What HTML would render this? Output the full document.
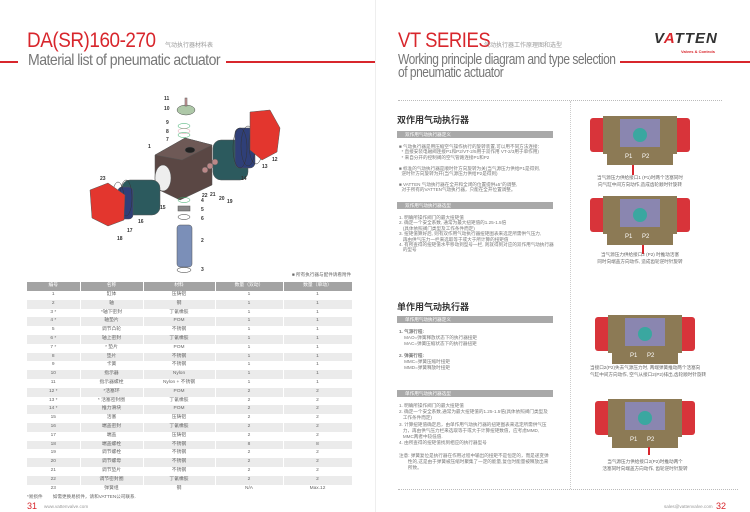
<!DOCTYPE html>
<html><head><meta charset="utf-8"><style>
*{margin:0;padding:0;box-sizing:border-box}
body{width:750px;height:512px;background:#fff;position:relative;overflow:hidden;font-family:"Liberation Sans","Noto Sans CJK SC",sans-serif;color:#555}
.a{position:absolute;white-space:nowrap}
.cn{font-family:"Liberation Sans","Noto Sans CJK SC",sans-serif}
table{position:absolute;left:27px;top:282px;width:325px;border-collapse:collapse;font-size:4.8px;color:#666;table-layout:fixed}
td,th{height:8.8px;line-height:8.8px;text-align:center;padding:0;border-right:1px solid #fff;overflow:hidden}
th{background:#a3a3a3;color:#fff;font-weight:normal;height:9px}
tr:nth-child(odd) td{background:#ebebeb}
.t{font-size:4.6px;line-height:5.4px;color:#777}
.band{position:absolute;left:397px;width:156px;height:7px;background:#a9a9a9;color:#fff;font-size:4.6px;line-height:7px;padding-left:8px}
.h{font-size:9px;font-weight:bold;color:#333}
.cap{font-size:4.6px;line-height:6.5px;color:#666;text-align:center}
</style></head><body>
<div class="a" style="left:375px;top:0;width:1px;height:512px;background:#eee"></div>
<!-- left header -->
<div class="a" style="left:27px;top:29px;font-size:21px;color:#d8262c;letter-spacing:-0.5px;transform:scaleX(0.9);transform-origin:left">DA(SR)160-270</div>
<div class="a cn" style="left:165px;top:40px;font-size:6px;color:#999">气动执行器材料表</div>
<div class="a" style="left:0;top:61px;width:18px;height:2px;background:#d8262c"></div>
<div class="a" style="left:226px;top:61px;width:149px;height:2px;background:#d8262c"></div>
<div class="a" style="left:28px;top:52px;font-size:16px;color:#777;letter-spacing:-0.6px;transform:scaleX(0.88);transform-origin:left">Material list of pneumatic actuator</div>

<!-- exploded drawing -->
<svg class="a" style="left:0;top:0" width="375" height="282">
 <g stroke="#555" stroke-width="0.5" font-size="5" font-weight="bold" fill="#333" font-family="Liberation Sans">
 <polygon points="155,155 185,138 212,145 212,185 180,200 155,188" fill="#5a4744"/>
 <polygon points="155,155 185,138 212,145 182,160" fill="#6e5956"/>
 <ellipse cx="190" cy="150" rx="5" ry="3" fill="#222"/>
 <ellipse cx="163" cy="178" rx="8" ry="13" fill="#eee"/>
 <rect x="213" y="140" width="35" height="40" rx="8" fill="#2c5a5e"/>
 <rect x="235" y="128" width="20" height="40" rx="5" fill="#2f3f78"/>
 <g stroke="#333" fill="none"><ellipse cx="240" cy="148" rx="7" ry="20"/><ellipse cx="248" cy="146" rx="7" ry="20"/><ellipse cx="256" cy="144" rx="7" ry="20"/></g>
 <polygon points="250,112 270,110 280,128 277,152 262,160 250,150" fill="#e3362e"/>
 <rect x="122" y="180" width="38" height="35" rx="8" fill="#2c5a5e"/>
 <rect x="118" y="187" width="15" height="32" rx="4" fill="#2f3f78"/>
 <g stroke="#333" fill="none"><ellipse cx="118" cy="200" rx="6" ry="18"/><ellipse cx="126" cy="198" rx="6" ry="18"/></g>
 <polygon points="90,190 108,183 125,195 124,220 108,226 92,218" fill="#e3362e"/>
 <ellipse cx="186" cy="110" rx="9" ry="5" fill="#aec8a8"/>
 <rect x="185" y="98" width="2" height="8" fill="#c99"/>
 <ellipse cx="184" cy="126" rx="6" ry="2.5" fill="none" stroke="#3a6"/>
 <ellipse cx="184" cy="131" rx="6" ry="2.5" fill="none" stroke="#d9a"/>
 <ellipse cx="184" cy="135" rx="6" ry="2.5" fill="none" stroke="#3a6"/>
 <ellipse cx="184" cy="200" rx="6" ry="2.5" fill="none" stroke="#3a6"/>
 <rect x="178" y="206" width="12" height="5" fill="#888"/>
 <ellipse cx="184" cy="217" rx="6" ry="2.5" fill="none" stroke="#333"/>
 <rect x="177" y="225" width="15" height="42" rx="3" fill="#7b8fb8"/>
 <ellipse cx="184" cy="270" rx="7" ry="2.5" fill="none" stroke="#333"/>
 <circle cx="205" cy="170" r="3" fill="#b88"/><circle cx="210" cy="166" r="3" fill="#b88"/><circle cx="215" cy="162" r="3" fill="#b88"/>
 <path d="M222,173 l10,3" stroke="#2c5a5e" stroke-width="3"/>
 </g>
 <g font-size="5" font-weight="bold" fill="#333" font-family="Liberation Sans">
 <text x="164" y="100">11</text><text x="164" y="110">10</text><text x="166" y="124">9</text><text x="166" y="133">8</text><text x="166" y="141">7</text>
 <text x="148" y="148">1</text><text x="272" y="161">12</text><text x="262" y="168">13</text><text x="241" y="180">14</text>
 <text x="202" y="197">22</text><text x="210" y="196">21</text><text x="219" y="200">20</text><text x="227" y="203">19</text>
 <text x="201" y="202">4</text><text x="201" y="211">5</text><text x="201" y="220">6</text><text x="201" y="242">2</text><text x="201" y="271">3</text>
 <text x="100" y="180">23</text><text x="160" y="209">15</text><text x="138" y="223">16</text><text x="127" y="232">17</text><text x="117" y="240">18</text>
 </g>
</svg>
<div class="a cn" style="left:292px;top:272px;font-size:4.6px;color:#666">■ 所有执行器与配件请看附件</div>

<table>
<colgroup><col style="width:53px"><col style="width:63px"><col style="width:72px"><col style="width:68px"><col style="width:69px"></colgroup>
<tr><th>编号</th><th>名称</th><th>材料</th><th>数量（双动）</th><th>数量（单动）</th></tr>
<tr><td>1</td><td>缸体</td><td>压铸铝</td><td>1</td><td>1</td></tr>
<tr><td>2</td><td>轴</td><td>钢</td><td>1</td><td>1</td></tr>
<tr><td>3 *</td><td>*轴下密封</td><td>丁氰橡胶</td><td>1</td><td>1</td></tr>
<tr><td>4 *</td><td>轴垫片</td><td>POM</td><td>1</td><td>1</td></tr>
<tr><td>5</td><td>调节凸轮</td><td>不锈钢</td><td>1</td><td>1</td></tr>
<tr><td>6 *</td><td>轴上密封</td><td>丁氰橡胶</td><td>1</td><td>1</td></tr>
<tr><td>7 *</td><td>* 垫片</td><td>POM</td><td>1</td><td>1</td></tr>
<tr><td>8</td><td>垫片</td><td>不锈钢</td><td>1</td><td>1</td></tr>
<tr><td>9</td><td>卡簧</td><td>不锈钢</td><td>1</td><td>1</td></tr>
<tr><td>10</td><td>指示器</td><td>Nylon</td><td>1</td><td>1</td></tr>
<tr><td>11</td><td>指示器螺栓</td><td>Nylon + 不锈钢</td><td>1</td><td>1</td></tr>
<tr><td>12 *</td><td>*活塞环</td><td>POM</td><td>2</td><td>2</td></tr>
<tr><td>13 *</td><td>* 活塞密封圈</td><td>丁氰橡胶</td><td>2</td><td>2</td></tr>
<tr><td>14 *</td><td>推力滑块</td><td>POM</td><td>2</td><td>2</td></tr>
<tr><td>15</td><td>活塞</td><td>压铸铝</td><td>2</td><td>2</td></tr>
<tr><td>16</td><td>端盖密封</td><td>丁氰橡胶</td><td>2</td><td>2</td></tr>
<tr><td>17</td><td>端盖</td><td>压铸铝</td><td>2</td><td>2</td></tr>
<tr><td>18</td><td>端盖螺栓</td><td>不锈钢</td><td>8</td><td>8</td></tr>
<tr><td>19</td><td>调节螺栓</td><td>不锈钢</td><td>2</td><td>2</td></tr>
<tr><td>20</td><td>调节螺母</td><td>不锈钢</td><td>2</td><td>2</td></tr>
<tr><td>21</td><td>调节垫片</td><td>不锈钢</td><td>2</td><td>2</td></tr>
<tr><td>22</td><td>调节密封圈</td><td>丁氰橡胶</td><td>2</td><td>2</td></tr>
<tr><td>23</td><td>弹簧组</td><td>钢</td><td>N/A</td><td>Max.12</td></tr>
</table>
<div class="a cn" style="left:27px;top:494px;font-size:4.6px;color:#666">*易损件&nbsp;&nbsp;&nbsp;&nbsp;&nbsp;&nbsp;&nbsp;&nbsp;如需更换易损件，请和VATTEN公司联系.</div>
<div class="a" style="left:27px;top:501px;font-size:9px;line-height:10px;color:#d8262c">31</div>
<div class="a" style="left:44px;top:504px;font-size:4.6px;color:#999">www.vattenvalve.com</div>

<!-- right header -->
<div class="a" style="left:398px;top:29px;font-size:21px;color:#d8262c;letter-spacing:-0.5px;transform:scaleX(0.88);transform-origin:left">VT SERIES</div>
<div class="a cn" style="left:484px;top:40px;font-size:6px;color:#999">气动执行器工作原理图和选型</div>
<div class="a" style="left:398px;top:54px;font-size:15px;line-height:12.5px;color:#777;letter-spacing:-0.6px;transform:scaleX(0.8);transform-origin:left">Working principle diagram and type selection<br>of pneumatic actuator</div>
<div class="a" style="left:620px;top:61px;width:130px;height:2px;background:#d8262c"></div>
<div class="a" style="left:654px;top:30px;font-size:15px;font-weight:bold;font-style:italic;color:#333;letter-spacing:1px">V<span style="color:#d8262c">A</span>TTEN</div>
<div class="a" style="left:681px;top:49px;font-size:4px;font-weight:bold;color:#d8262c">Valves &amp; Controls</div>
<div class="a" style="left:398px;top:100px;width:324px;border-top:1px dotted #bbb"></div>
<div class="a" style="left:570px;top:101px;height:388px;border-left:1px dotted #ccc"></div>
<div class="a" style="left:398px;top:489px;width:340px;border-top:1px dotted #bbb"></div>

<!-- right text col -->
<div class="a h cn" style="left:397px;top:113px">双作用气动执行器</div>
<div class="band cn" style="top:131px">双作用气动执行器定义</div>
<div class="a t cn" style="left:399px;top:144px">■ 气动执行器是用压缩空气操作执行的旋转装置,可以用不同方法连接：<br>&nbsp;&nbsp;* 直接安装电磁阀连接P1和P2/VT-2/5用于双作用 VT-2/3用于单作用)<br>&nbsp;&nbsp;* 来自分开的控制阀的空气管路连接P1和P2<br><span style="line-height:4px">&nbsp;</span><br>■ 标准的气动执行器是顺时针方向旋转为关(当气源压力供给P1是得到,<br>&nbsp;&nbsp;逆时针方向旋转为开(当气源压力供给P2是得到)<br><span style="line-height:4px">&nbsp;</span><br>■ VATTEN 气动执行器在全开和全闭的位置提供±5°的调整,<br>&nbsp;&nbsp;对于所有的VATTEN气动执行器，只能在全开位置调整。</div>
<div class="band cn" style="top:202px">双作用气动执行器选型</div>
<div class="a t cn" style="left:399px;top:215px">1. 明确所操作阀门的最大扭矩值<br>2. 确定一个安全系数, 通常为最大扭矩值的1.25-1.5倍<br>&nbsp;&nbsp;&nbsp;(具体依照阀门类型及工作条件而定)<br>3. 扭矩值算好后, 则有双作用气动执行器扭矩图表来选定所需供气压力,<br>&nbsp;&nbsp;&nbsp;再由供气压力一栏来选取等于或大于所计算的扭矩值<br>4. 有所查得的扭矩值水平移动到型号一栏, 则就得到对应的双作用气动执行器<br>&nbsp;&nbsp;&nbsp;的型号</div>

<div class="a h cn" style="left:397px;top:300px">单作用气动执行器</div>
<div class="band cn" style="top:316px">单作用气动执行器定义</div>
<div class="a t cn" style="left:399px;top:329px;line-height:6px"><b>1. 气源行程:</b><br>&nbsp;&nbsp;&nbsp;&nbsp;MAO=弹簧释放状态下的执行器扭矩<br>&nbsp;&nbsp;&nbsp;&nbsp;MAC=弹簧压缩状态下的执行器扭矩<br><span style="line-height:3px">&nbsp;</span><br><b>2. 弹簧行程:</b><br>&nbsp;&nbsp;&nbsp;&nbsp;MMC=弹簧压缩时扭矩<br>&nbsp;&nbsp;&nbsp;&nbsp;MMD=弹簧释放时扭矩</div>
<div class="band cn" style="top:390px">单作用气动执行器选型</div>
<div class="a t cn" style="left:399px;top:403px;line-height:6.2px">1. 明确所操作阀门的最大扭矩值<br>2. 确定一个安全系数,通常为最大扭矩值的1.25-1.5倍(具体依照阀门类型及<br>&nbsp;&nbsp;&nbsp;工作条件而定)<br>3. 计算扭矩值确定后，由单作用气动执行器的扭矩图表来选定所需供气压<br>&nbsp;&nbsp;&nbsp;力，再由供气压力栏来选取等于或大于计算扭矩数值，应考虑MMD,<br>&nbsp;&nbsp;&nbsp;MMC两者中较低值.<br>4. 由所查得的扭矩值找到相应的执行器型号<br><span style="line-height:4px">&nbsp;</span><br>注意: 弹簧复位是执行器在作用过程中输出的扭矩不是恒定的，而是递变弹<br>&nbsp;&nbsp;&nbsp;&nbsp;&nbsp;&nbsp;&nbsp;性的,这是由于弹簧被压缩时聚集了一定的能量,复位时能量被释放出来<br>&nbsp;&nbsp;&nbsp;&nbsp;&nbsp;&nbsp;&nbsp;所致。</div>

<!-- actuator images -->
<svg class="a" style="left:585px;top:105px" width="165" height="350">
 <defs>
 <g id="act">
  <rect x="5" y="3" width="18" height="34" rx="3" fill="#d8343a"/>
  <rect x="87" y="3" width="18" height="34" rx="3" fill="#d8343a"/>
  <rect x="18" y="1" width="74" height="38" fill="#8c7a55"/>
  <rect x="35" y="4" width="40" height="28" fill="#8a86b0"/>
  <rect x="22" y="33" width="66" height="17" fill="#8c7a55"/>
  <text x="40" y="43" font-size="6" fill="#fff" font-family="Liberation Sans">P1</text>
  <text x="57" y="43" font-size="6" fill="#fff" font-family="Liberation Sans">P2</text>
  <circle cx="55" cy="20" r="7" fill="#3aa7a0"/>
 </g>
 </defs>
 <use href="#act" x="0" y="10"/><rect x="47" y="60" width="2" height="10" fill="#d8262c"/>
 <use href="#act" x="0" y="90"/><rect x="57" y="140" width="2" height="9" fill="#d8262c"/>
 <use href="#act" x="5" y="209"/>
 <use href="#act" x="5" y="293"/><rect x="63" y="342" width="2" height="8" fill="#d8262c"/>
</svg>
<div class="a cap cn" style="left:585px;top:175px;width:110px">当气源压力供给接口1 (P1)时两个活塞同时<br>向气缸中间方向动作,造成齿轮顺时针旋转</div>
<div class="a cap cn" style="left:585px;top:252px;width:110px">当气源压力供给接口2 (P2) 时推动活塞<br>同时向端盖方向动作, 造成齿轮逆时针旋转</div>
<div class="a cap cn" style="left:590px;top:365px;width:110px">当接口2(P2)失去气源压力时, 两端弹簧推动两个活塞向<br>气缸中间方向动作, 空气从接口2(P2)排出,齿轮顺时针旋转</div>
<div class="a cap cn" style="left:590px;top:459px;width:110px">当气源压力供给接口2(P2)时推动两个<br>活塞同时向端盖方向动作, 齿轮逆时针旋转</div>
<div class="a" style="left:664px;top:504px;font-size:4.6px;color:#999">sales@vattenvalve.com</div>
<div class="a" style="left:716px;top:501px;font-size:9px;line-height:10px;color:#d8262c">32</div>
</body></html>
